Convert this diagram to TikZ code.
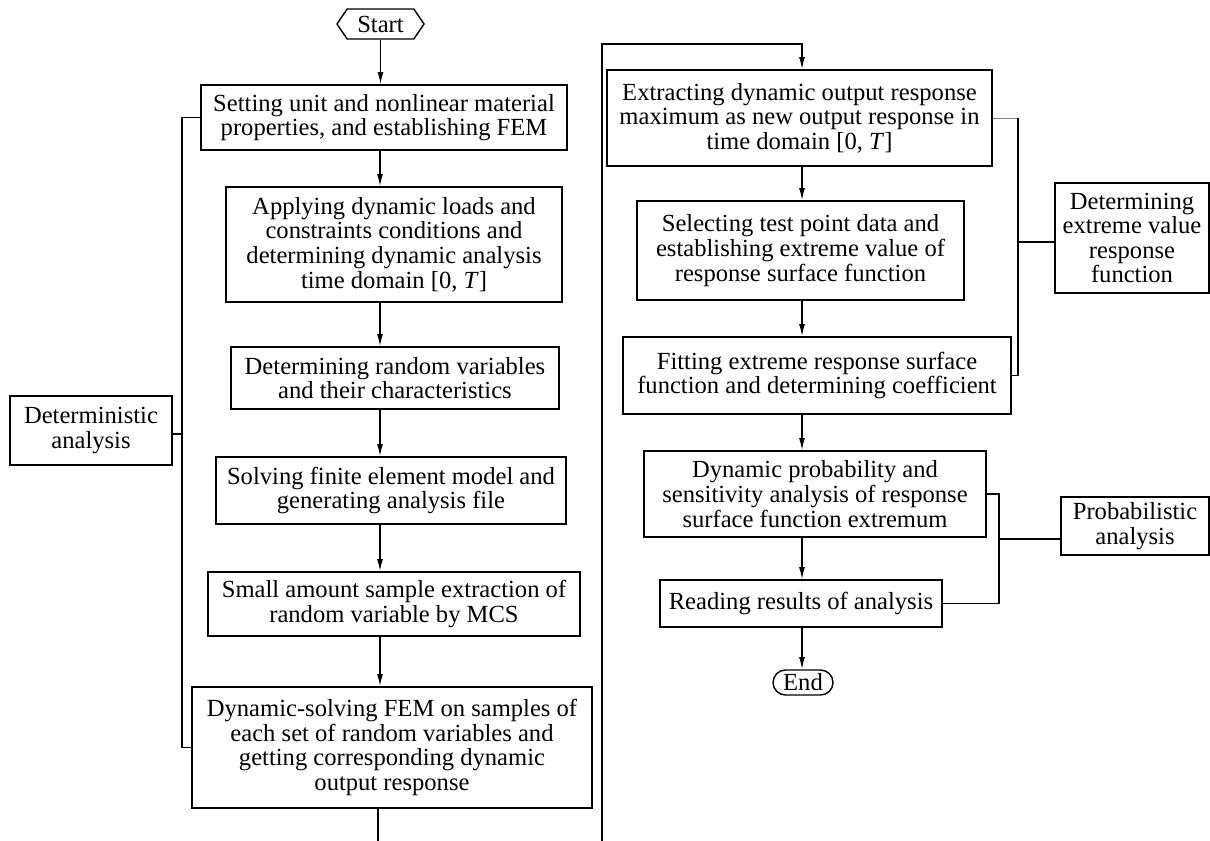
\documentclass[tikz,border=0pt]{standalone}
\usepackage{fontspec}
\setmainfont{Liberation Serif}
\usetikzlibrary{arrows.meta,shapes.misc,shapes.symbols}

\begin{document}
\begin{tikzpicture}[x=0.02cm,y=-0.02cm,>={Latex[length=7pt,width=3.4pt]},line width=0.8pt,
  box/.style={draw,align=center,inner sep=0pt,font=\fontsize{14}{14}\selectfont}]
  \useasboundingbox (0,0) rectangle (1210,841);
  \coordinate (colL) at (380,0); \coordinate (colR) at (802,0);
  % left column
  \node[box,signal,signal to=west and east,signal pointer angle=112,minimum width=1.74cm,minimum height=0.6cm] (start) at (380.5,24) {Start};
  \node[box,minimum width=7.32cm,minimum height=1.30cm] (set) at (384,117.5) {Setting unit and nonlinear material\\properties, and establishing FEM};
  \node[box,minimum width=6.72cm,minimum height=2.30cm] (load) at (394,244.5) {Applying dynamic loads and\\constraints conditions and\\determining dynamic analysis\\time domain [0, \textit{T}\/]};
  \node[box,minimum width=6.56cm,minimum height=1.24cm] (rv) at (395,378) {Determining random variables\\and their characteristics};
  \node[box,minimum width=7.00cm,minimum height=1.34cm] (solve) at (391,490.5) {Solving finite element model and\\generating analysis file};
  \node[box,minimum width=7.44cm,minimum height=1.28cm] (mcs) at (394,604) {Small amount sample extraction of\\random variable by MCS};
  \node[box,minimum width=8.00cm,minimum height=2.42cm] (dyn) at (392,747.5) {Dynamic-solving FEM on samples of\\each set of random variables and\\getting corresponding dynamic\\output response};
  \node[box,minimum width=3.24cm,minimum height=1.38cm] (det) at (91,430.5) {Deterministic\\analysis};
  \draw[->] (start.south) -- (start.south |- set.north);
  \draw[->] (set.south -| colL) -- (load.north -| colL);
  \draw[->] (load.south -| colL) -- (rv.north -| colL);
  \draw[->] (rv.south -| colL) -- (solve.north -| colL);
  \draw[->] (solve.south -| colL) -- (mcs.north -| colL);
  \draw[->] (mcs.south -| colL) -- (dyn.north -| colL);
  \coordinate (cutL) at (378,841);
  \draw (dyn.south -| cutL) -- (cutL);
  \coordinate (brL) at (182,434);
  \draw (set.west) -| (brL) |- (dyn.west); \draw (brL) -- (brL -| det.east);
  % right column
  \node[box,minimum width=7.70cm,minimum height=1.92cm] (ext) at (799.5,118) {Extracting dynamic output response\\maximum as new output response in\\time domain [0, \textit{T}\/]};
  \node[box,minimum width=6.54cm,minimum height=1.98cm] (test) at (800.5,250.5) {Selecting test point data and\\establishing extreme value of\\response surface function};
  \node[box,minimum width=7.76cm,minimum height=1.54cm] (fit) at (817,375.5) {Fitting extreme response surface\\function and determining coefficient};
  \node[box,minimum width=3.08cm,minimum height=2.20cm] (extr) at (1132,238) {Determining\\extreme value\\response\\function};
  \node[box,minimum width=6.84cm,minimum height=1.72cm] (prob) at (815,494) {Dynamic probability and\\sensitivity analysis of response\\surface function extremum};
  \node[box,minimum width=5.64cm,minimum height=0.94cm] (read) at (801,603.5) {Reading results of analysis};
  \node[box,minimum width=2.96cm,minimum height=1.16cm] (pa) at (1135,526) {Probabilistic\\analysis};
  \node[box,rounded rectangle,minimum width=1.20cm,minimum height=0.50cm] (end) at (803,682.5) {End};
  \coordinate (cutR) at (602,841); \coordinate (topR) at (602,44);
  \draw[->] (cutR) -- (topR) -| (ext.north -| colR);
  \draw[->] (ext.south -| colR) -- (test.north -| colR);
  \draw[->] (test.south -| colR) -- (fit.north -| colR);
  \draw[->] (fit.south -| colR) -- (prob.north -| colR);
  \draw[->] (prob.south -| colR) -- (read.north -| colR);
  \draw[->] (read.south -| colR) -- (end.north -| colR);
  \coordinate (brR) at (1018,242); \coordinate (brP) at (999,539);
  \draw[gray,line width=0.4pt] (ext.east) -- (ext.east -| brR);
  \draw (ext.east -| brR) -- (brR) |- (fit.east); \draw (brR) -- (brR -| extr.west);
  \draw (prob.east) -| (brP) |- (read.east); \draw (brP) -- (brP -| pa.west);
\end{tikzpicture}
\end{document}
